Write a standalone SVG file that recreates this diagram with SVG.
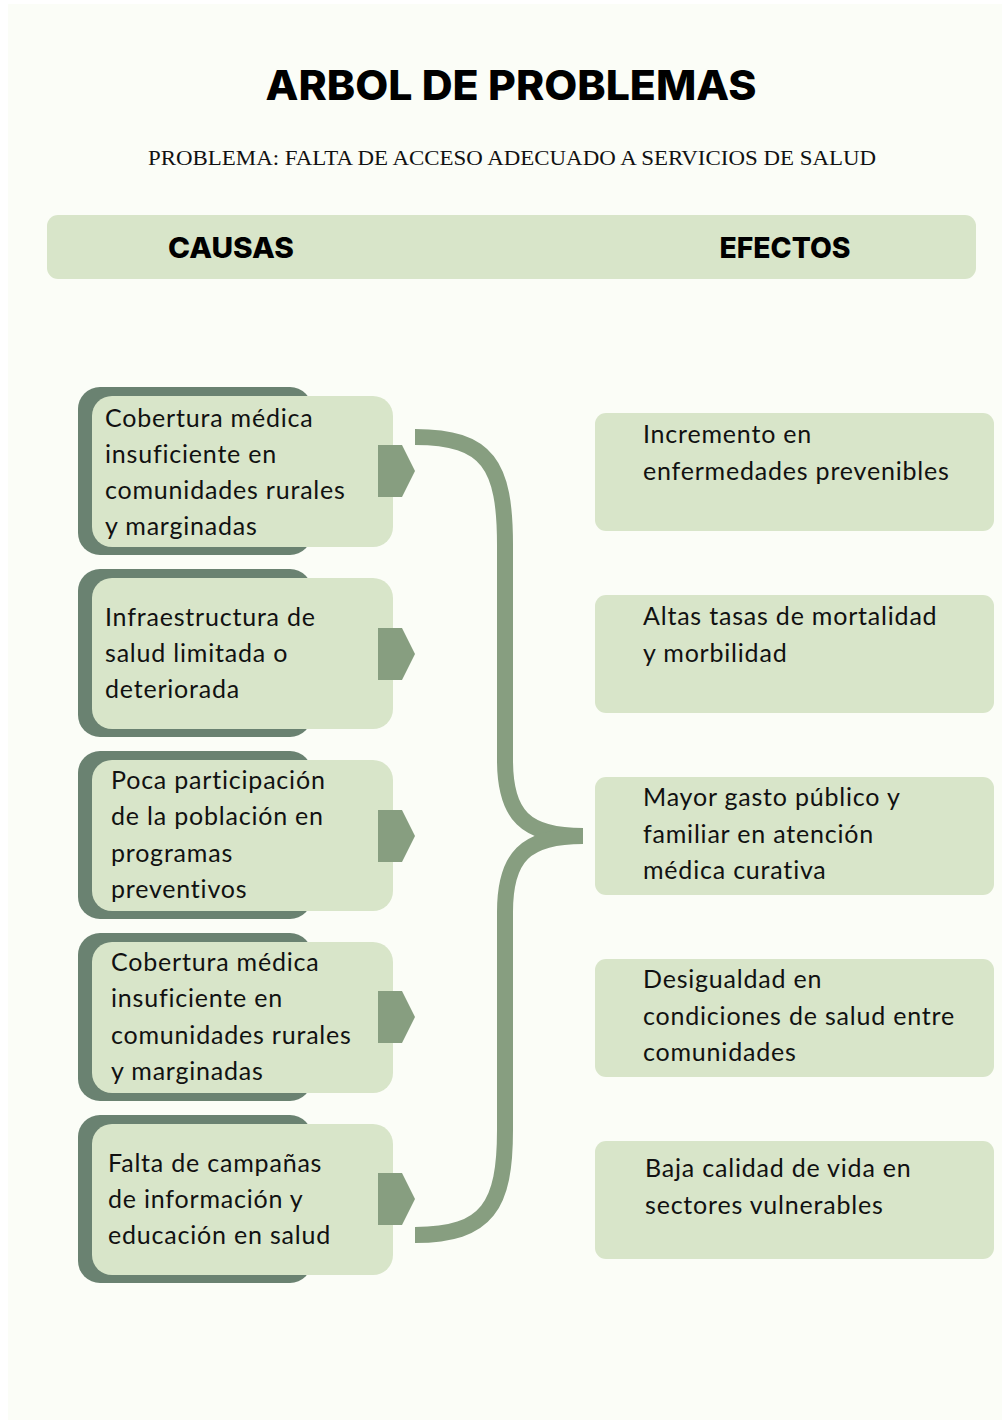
<svg xmlns="http://www.w3.org/2000/svg" width="1002" height="1420" viewBox="0 0 1002 1420">
<defs>
<style>
.bg{fill:#fbfdf7}
.back{fill:#6a8271}
.front{fill:#d8e5c9}
.tab{fill:#879e80}
.eff{fill:#d8e5c9}
.brace{fill:none;stroke:#879e80;stroke-width:16;stroke-linecap:butt}
.t{font-family:Lato,"Noto Sans","Liberation Sans",sans-serif;font-size:25px;letter-spacing:0.8px;fill:#111}
.h{font-family:Inter,"Liberation Sans",sans-serif;font-weight:800;fill:#000}
.sub{font-family:"Liberation Serif","DejaVu Serif",serif;font-size:22px;fill:#111}
</style>
</defs>
<rect x="0" y="0" width="1002" height="1420" fill="#ffffff"/>
<rect class="bg" x="8" y="4" width="994" height="1416"/>

<g id="title">
<text class="h" x="511" y="100" font-size="41" text-anchor="middle" textLength="491" lengthAdjust="spacingAndGlyphs">ARBOL DE PROBLEMAS</text>
<text class="sub" x="512" y="165" text-anchor="middle" textLength="728" lengthAdjust="spacingAndGlyphs">PROBLEMA: FALTA DE ACCESO ADECUADO A SERVICIOS DE SALUD</text>
</g>

<g id="header">
<rect class="front" x="47" y="215" width="929" height="64" rx="11"/>
<text class="h" x="231" y="258" font-size="29" text-anchor="middle" textLength="126" lengthAdjust="spacingAndGlyphs">CAUSAS</text>
<text class="h" x="785" y="258" font-size="29" text-anchor="middle" textLength="131" lengthAdjust="spacingAndGlyphs">EFECTOS</text>
</g>

<g id="connectors">
<path class="brace" d="M415,437 C488,437 505,465 505,545 L505,760 C505,815 525,836 583,836"/>
<path class="brace" d="M583,836 C525,836 505,857 505,912 L505,1130 C505,1205 488,1235 415,1235"/>
</g>

<g id="cause1">
<rect class="back" x="78" y="387" width="234" height="168" rx="22"/>
<rect class="front" x="92" y="396" width="301" height="151" rx="20"/>
<path class="tab" d="M378,445 L402,445 L415,471 L402,497 L378,497 Z"/>
<text class="t"><tspan x="105" y="427">Cobertura médica</tspan><tspan x="105" y="463">insuficiente en</tspan><tspan x="105" y="499">comunidades rurales</tspan><tspan x="105" y="535">y marginadas</tspan></text>
</g>

<g id="cause2">
<rect class="back" x="78" y="569" width="234" height="168" rx="22"/>
<rect class="front" x="92" y="578" width="301" height="151" rx="20"/>
<path class="tab" d="M378,628 L402,628 L415,654 L402,680 L378,680 Z"/>
<text class="t"><tspan x="105" y="626">Infraestructura de</tspan><tspan x="105" y="662">salud limitada o</tspan><tspan x="105" y="698">deteriorada</tspan></text>
</g>

<g id="cause3">
<rect class="back" x="78" y="751" width="234" height="168" rx="22"/>
<rect class="front" x="92" y="760" width="301" height="151" rx="20"/>
<path class="tab" d="M378,810 L402,810 L415,836 L402,862 L378,862 Z"/>
<text class="t"><tspan x="111" y="789">Poca participación</tspan><tspan x="111" y="825">de la población en</tspan><tspan x="111" y="862">programas</tspan><tspan x="111" y="898">preventivos</tspan></text>
</g>

<g id="cause4">
<rect class="back" x="78" y="933" width="234" height="168" rx="22"/>
<rect class="front" x="92" y="942" width="301" height="151" rx="20"/>
<path class="tab" d="M378,991 L402,991 L415,1017 L402,1043 L378,1043 Z"/>
<text class="t"><tspan x="111" y="971">Cobertura médica</tspan><tspan x="111" y="1007">insuficiente en</tspan><tspan x="111" y="1044">comunidades rurales</tspan><tspan x="111" y="1080">y marginadas</tspan></text>
</g>

<g id="cause5">
<rect class="back" x="78" y="1115" width="234" height="168" rx="22"/>
<rect class="front" x="92" y="1124" width="301" height="151" rx="20"/>
<path class="tab" d="M378,1173 L402,1173 L415,1199 L402,1225 L378,1225 Z"/>
<text class="t"><tspan x="108" y="1172">Falta de campañas</tspan><tspan x="108" y="1208">de información y</tspan><tspan x="108" y="1244">educación en salud</tspan></text>
</g>

<g id="effect1">
<rect class="eff" x="595" y="413" width="399" height="118" rx="11"/>
<text class="t"><tspan x="643" y="443">Incremento en</tspan><tspan x="643" y="480">enfermedades prevenibles</tspan></text>
</g>

<g id="effect2">
<rect class="eff" x="595" y="595" width="399" height="118" rx="11"/>
<text class="t"><tspan x="643" y="625">Altas tasas de mortalidad</tspan><tspan x="643" y="662">y morbilidad</tspan></text>
</g>

<g id="effect3">
<rect class="eff" x="595" y="777" width="399" height="118" rx="11"/>
<text class="t"><tspan x="643" y="806">Mayor gasto público y</tspan><tspan x="643" y="843">familiar en atención</tspan><tspan x="643" y="879">médica curativa</tspan></text>
</g>

<g id="effect4">
<rect class="eff" x="595" y="959" width="399" height="118" rx="11"/>
<text class="t"><tspan x="643" y="988">Desigualdad en</tspan><tspan x="643" y="1025">condiciones de salud entre</tspan><tspan x="643" y="1061">comunidades</tspan></text>
</g>

<g id="effect5">
<rect class="eff" x="595" y="1141" width="399" height="118" rx="11"/>
<text class="t"><tspan x="645" y="1177">Baja calidad de vida en</tspan><tspan x="645" y="1214">sectores vulnerables</tspan></text>
</g>
</svg>
